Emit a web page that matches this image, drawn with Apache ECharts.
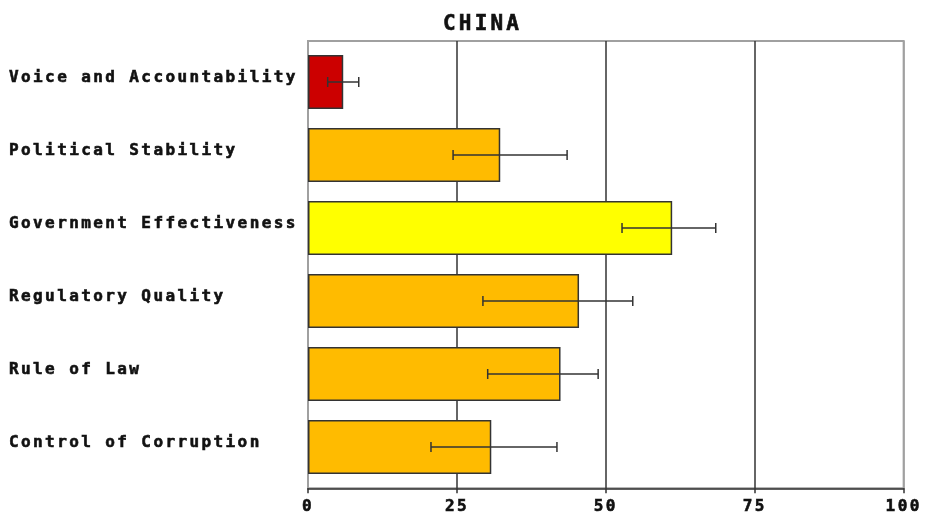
<!DOCTYPE html>
<html>
<head>
<meta charset="utf-8">
<title>CHINA</title>
<script src="https://cdn.jsdelivr.net/npm/echarts@6/dist/echarts.min.js"></script>
<style>
  html, body { margin: 0; padding: 0; background: #fff; }
  #chart { width: 925px; height: 516px; }
</style>
</head>
<body>
<div id="chart"></div>
<script>
// Governance indicators (percentile rank, 0-100)
const categories = [
  'Voice and Accountability',
  'Political Stability',
  'Government Effectiveness',
  'Regulatory Quality',
  'Rule of Law',
  'Control of Corruption'
];
const rankValues = [5.9, 32.2, 61.0, 45.4, 42.3, 30.7];
const rankLower  = [3.3, 24.3, 52.6, 29.3, 30.1, 20.6];
const rankUpper  = [8.5, 43.4, 68.3, 54.4, 48.6, 41.7];
const barColors  = ['#CC0000', '#FFBB00', '#FFFF00', '#FFBB00', '#FFBB00', '#FFBB00'];
const xTicks = [0, 25, 50, 75, 100];

// Wide monospace lettering: add a little tracking proportional to font size.
(function () {
  const proto = CanvasRenderingContext2D.prototype;
  const desc = Object.getOwnPropertyDescriptor(proto, 'font');
  if (!desc || !('letterSpacing' in proto)) return;
  Object.defineProperty(proto, 'font', {
    configurable: true,
    enumerable: desc.enumerable,
    get: function () { return desc.get.call(this); },
    set: function (v) {
      desc.set.call(this, v);
      const m = /(\d+(?:\.\d+)?)px/.exec(v);
      this.letterSpacing = m ? (Math.round(parseFloat(m[1]) * 1.5) / 10) + 'px' : '0px';
    }
  });
})();

const FONT = '"DejaVu Sans Mono", "Liberation Mono", monospace';
const TEXT = '#111';
const heavy = { fontFamily: FONT, fontWeight: 'bold', color: TEXT, textBorderColor: TEXT, textBorderWidth: 0.6 };

const chart = echarts.init(document.getElementById('chart'), null, { renderer: 'canvas' });

const option = {
  backgroundColor: '#ffffff',
  animation: false,
  title: {
    text: 'CHINA',
    left: 438,
    top: 7,
    textStyle: Object.assign({ fontSize: 21 }, heavy)
  },
  grid: [
    // frame, gridlines and value axis
    { left: 308, right: 20, top: 41, bottom: 27, show: true, borderColor: '#a0a0a0', borderWidth: 2, backgroundColor: 'transparent' },
    // bars and category labels
    { left: 308, right: 20, top: 45.5, bottom: 32.5 }
  ],
  xAxis: [
    {
      gridIndex: 0,
      type: 'value',
      min: xTicks[0],
      max: xTicks[xTicks.length - 1],
      interval: 25,
      axisLine: { show: true, lineStyle: { color: '#333', width: 1.5 } },
      axisTick: { show: true, length: 5, lineStyle: { color: '#333', width: 1.5 } },
      axisLabel: Object.assign({ margin: 9, fontSize: 16 }, heavy),
      splitLine: {
        show: true,
        showMinLine: true,
        showMaxLine: true,
        lineStyle: { color: ['#a0a0a0', '#333', '#333', '#333', '#a0a0a0'], width: 1.5 }
      }
    },
    {
      gridIndex: 1,
      type: 'value',
      min: xTicks[0],
      max: xTicks[xTicks.length - 1],
      show: false
    }
  ],
  yAxis: [
    { gridIndex: 0, type: 'value', show: false, min: 0, max: 1, splitLine: { show: false } },
    {
      gridIndex: 1,
      type: 'category',
      data: categories,
      inverse: true,
      axisLine: { show: false },
      axisTick: { show: false },
      splitLine: { show: false },
      axisLabel: Object.assign({
        align: 'left',
        margin: 299,
        fontSize: 16,
        formatter: function (v) { return '{lbl|' + v + '}'; },
        rich: {
          lbl: Object.assign({ fontSize: 16, padding: [0, 0, 8, 0] }, heavy)
        }
      }, heavy)
    }
  ],
  series: [
    {
      type: 'bar',
      xAxisIndex: 1,
      yAxisIndex: 1,
      barWidth: 54,
      data: rankValues.map((v, i) => ({
        value: v,
        itemStyle: { color: barColors[i], borderColor: '#333', borderWidth: 1.5 }
      }))
    },
    {
      type: 'custom',
      xAxisIndex: 1,
      yAxisIndex: 1,
      data: categories.map((c, i) => [rankLower[i], rankUpper[i], i]),
      z: 10,
      renderItem: function (params, api) {
        const lo = api.coord([api.value(0), api.value(2)]);
        const hi = api.coord([api.value(1), api.value(2)]);
        const y = lo[1];
        const cap = 5;
        const style = { stroke: '#333', lineWidth: 1.5 };
        return {
          type: 'group',
          children: [
            { type: 'line', shape: { x1: lo[0], y1: y, x2: hi[0], y2: y }, style: style },
            { type: 'line', shape: { x1: lo[0], y1: y - cap, x2: lo[0], y2: y + cap }, style: style },
            { type: 'line', shape: { x1: hi[0], y1: y - cap, x2: hi[0], y2: y + cap }, style: style }
          ]
        };
      }
    }
  ]
};

chart.setOption(option);
</script>
</body>
</html>
